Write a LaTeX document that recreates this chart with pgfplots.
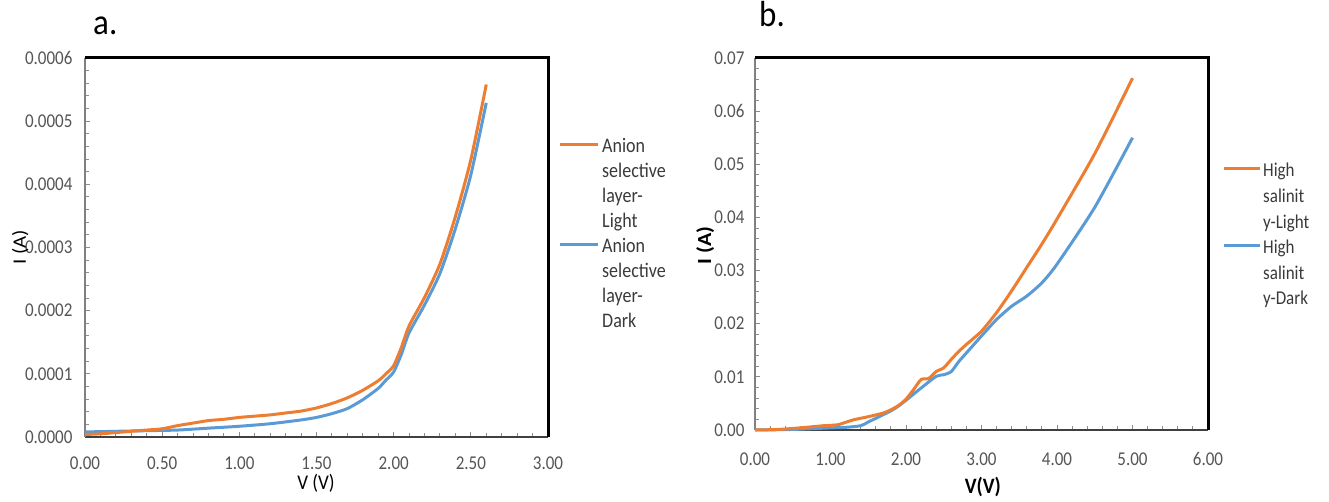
\documentclass[border=0pt]{standalone}
\usepackage{fontspec}
\setmainfont{Carlito}
\usepackage{pgfplots}
\pgfplotsset{compat=1.18}
\definecolor{xlorange}{HTML}{ED7D31}
\definecolor{xlblue}{HTML}{5B9BD5}
\definecolor{ticktxt}{HTML}{555555}
\definecolor{legtxt}{HTML}{3A3A3A}
\pgfplotsset{
  common/.style={
    scale only axis,
    axis x line*=bottom, axis y line*=left,
    x axis line style={draw=black!75, line width=2pt, -},
    y axis line style={draw=black!50, line width=2.5pt, -},
    tick align=inside,
    major tick length=5pt, minor tick length=4pt,
    every tick/.style={draw=black!45, line width=1pt},
    minor x tick num=4, minor y tick num=4,
    tick label style={font=\fontsize{17}{20}\selectfont, text=ticktxt, yscale=1.15},
    scaled y ticks=false, scaled x ticks=false,
    clip=false,
    xlabel style={anchor=center, yscale=1.1},
    ylabel style={anchor=center, xscale=1.1},
  },
}
\begin{document}
\begin{tikzpicture}
\path[use as bounding box] (0,0) rectangle (1329pt,502pt);
% ---------- panel a ----------
\begin{axis}[common,
  at={(85pt,65pt)}, anchor=south west,
  width=463pt, height=379pt,
  xmin=0, xmax=3, ymin=0, ymax=0.0006,
  xtick={0,0.5,1,1.5,2,2.5,3},
  ytick={0,0.0001,0.0002,0.0003,0.0004,0.0005,0.0006},
  xticklabel style={anchor=center, yshift=-23pt, /pgf/number format/.cd, fixed, fixed zerofill, precision=2, assume math mode=true},
  yticklabel style={anchor=east, xshift=-9pt, /pgf/number format/.cd, fixed, fixed zerofill, precision=4, assume math mode=true},
  xlabel={V (V)}, ylabel={I (A)},
  xlabel style={at={(axis description cs:0.499,-0.123)}, font=\fontsize{19}{22}\selectfont},
  ylabel style={at={(axis description cs:-0.140,0.501)}, font=\fontsize{19}{22}\selectfont},
]
\draw[black, line width=3pt] (rel axis cs:0,1) -- (rel axis cs:1,1) -- (rel axis cs:1,0);
\addplot[xlblue, line width=3pt, smooth, tension=0.4] coordinates {
(0,0.000008) (0.2,0.000009) (0.4,0.00001) (0.6,0.000011) (0.8,0.000014) (1.0,0.000017)
(1.2,0.000021) (1.4,0.000027) (1.5,0.000031) (1.6,0.000037) (1.7,0.000045) (1.8,0.000059)
(1.9,0.000077) (1.95,0.00009) (2.0,0.000103) (2.05,0.000131) (2.1,0.000165) (2.2,0.000209)
(2.3,0.000259) (2.4,0.00033) (2.5,0.000415) (2.6,0.000529)};
\addplot[xlorange, line width=3pt, smooth, tension=0.4] coordinates {
(0,0.000004) (0.1,0.000005) (0.2,0.000007) (0.3,0.000009) (0.4,0.000011) (0.5,0.000013)
(0.6,0.000018) (0.7,0.000022) (0.8,0.000026) (0.9,0.000028) (1.0,0.000031) (1.1,0.000033)
(1.2,0.000035) (1.3,0.000038) (1.4,0.000041) (1.5,0.000046) (1.6,0.000053) (1.7,0.000062)
(1.8,0.000074) (1.9,0.000089) (1.95,0.0001) (2.0,0.000113) (2.05,0.000142) (2.1,0.000176)
(2.2,0.000221) (2.3,0.000274) (2.4,0.000349) (2.5,0.000439) (2.6,0.000558)};
\end{axis}
% ---------- panel b ----------
\begin{axis}[common,
  at={(755pt,72pt)}, anchor=south west,
  width=453pt, height=372pt,
  xmin=0, xmax=6, ymin=0, ymax=0.07,
  xtick={0,1,2,3,4,5,6},
  ytick={0,0.01,0.02,0.03,0.04,0.05,0.06,0.07},
  xticklabel style={anchor=center, yshift=-25pt, /pgf/number format/.cd, fixed, fixed zerofill, precision=2, assume math mode=true},
  yticklabel style={anchor=east, xshift=-7pt, /pgf/number format/.cd, fixed, fixed zerofill, precision=2, assume math mode=true},
  xlabel={V(V)}, ylabel={I (A)},
  xlabel style={at={(axis description cs:0.503,-0.153)}, font=\fontsize{20}{22}\selectfont\bfseries},
  ylabel style={at={(axis description cs:-0.110,0.497)}, font=\fontsize{20}{22}\selectfont\bfseries},
]
\draw[black, line width=3pt] (rel axis cs:0,1) -- (rel axis cs:1,1) -- (rel axis cs:1,0);
\addplot[xlblue, line width=3pt, smooth, tension=0.4] coordinates {
(0,0) (0.5,0.0001) (1.0,0.0004) (1.2,0.0005) (1.4,0.0008) (1.5,0.0015) (1.6,0.0022)
(1.8,0.0036) (1.9,0.0045) (2.0,0.0056) (2.2,0.0079) (2.4,0.0101) (2.5,0.0104) (2.6,0.011)
(2.7,0.0129) (2.8,0.0145) (3.0,0.0177) (3.2,0.0208) (3.4,0.0233) (3.6,0.0252) (3.8,0.0277)
(4.0,0.0312) (4.5,0.0419) (5.0,0.055)};
\addplot[xlorange, line width=3pt, smooth, tension=0.4] coordinates {
(0,0) (0.3,0.0001) (0.6,0.0004) (0.9,0.0008) (1.1,0.001) (1.3,0.0019) (1.5,0.0025)
(1.7,0.0032) (1.8,0.0038) (1.9,0.0046) (2.0,0.0058) (2.1,0.0076) (2.2,0.0095) (2.3,0.0097)
(2.4,0.011) (2.5,0.0117) (2.6,0.0133) (2.7,0.0148) (2.8,0.0161) (3.0,0.0186) (3.2,0.0221)
(3.4,0.0262) (3.6,0.0306) (3.8,0.035) (4.0,0.0397) (4.5,0.052) (5.0,0.0662)};
\end{axis}
% ---------- panel letters ----------
\node[anchor=base west, inner sep=0pt, yscale=1.1, font=\fontsize{33}{36}\selectfont] at (93pt,467pt) {a.};
\node[anchor=base west, inner sep=0pt, yscale=1.1, font=\fontsize{33}{36}\selectfont] at (759pt,475pt) {b.};
% ---------- legend a ----------
\draw[xlorange, line width=3pt] (560pt,357pt) -- (598pt,357pt);
\draw[xlblue, line width=3pt] (560pt,257pt) -- (598pt,257pt);
\begin{scope}[every node/.style={anchor=base west, inner sep=0pt, text=legtxt, yscale=1.15, font=\fontsize{18}{25}\selectfont}]
\node at (602pt,349pt) {Anion};
\node at (602pt,324pt) {selective};
\node at (602pt,299pt) {layer-};
\node at (602pt,274pt) {Light};
\node at (602pt,249pt) {Anion};
\node at (602pt,224pt) {selective};
\node at (602pt,199pt) {layer-};
\node at (602pt,174pt) {Dark};
\end{scope}
% ---------- legend b ----------
\draw[xlorange, line width=3pt] (1224pt,333pt) -- (1260pt,333pt);
\draw[xlblue, line width=3pt] (1224pt,256pt) -- (1260pt,256pt);
\begin{scope}[every node/.style={anchor=base west, inner sep=0pt, text=legtxt, yscale=1.15, font=\fontsize{17}{25}\selectfont}]
\node at (1263pt,325pt) {High};
\node at (1263pt,299pt) {salinit};
\node at (1263pt,273pt) {y-Light};
\node at (1263pt,248pt) {High};
\node at (1263pt,222pt) {salinit};
\node at (1263pt,197pt) {y-Dark};
\end{scope}
\end{tikzpicture}
\end{document}
